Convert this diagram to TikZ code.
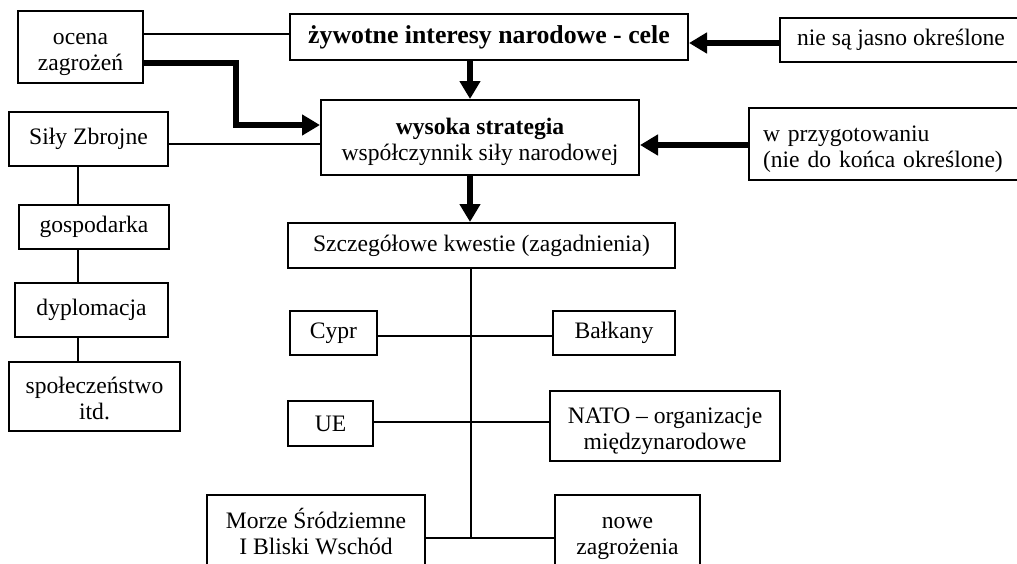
\documentclass[tikz,border=0pt]{standalone}
\usepackage{fontspec}
\setmainfont{Liberation Serif}
\usetikzlibrary{
    arrows.meta,
    calc,
    positioning,
}

\begin{document}
\begin{tikzpicture}[x=0.5pt,y=-0.5pt,>={Triangle[length=9pt,width=10pt]},font=\fontsize{11.8}{13}\selectfont]

    \tikzstyle{commonBox}=[draw=black, line width=1pt, rectangle, align=center, inner sep=0pt]
    \tikzstyle{goalBox}=[commonBox, font=\fontsize{12.9}{14}\selectfont\bfseries]
    \tikzstyle{noteBox}=[commonBox, align=left, inner xsep=7pt, text width=124pt]
    \tikzstyle{link}=[line width=1pt]
    \tikzstyle{flow}=[->, line width=3pt]

    % Same height for the first line of two-line boxes
    \def\firstline{\rule{0pt}{14pt}}

    % Frame of the picture
    \useasboundingbox (0,0) rectangle (1017,563);
    \clip (0,0) rectangle (1017,563);

    % Top row
    \node at (80.5,47)  [commonBox, minimum width=62.5pt, minimum height=36pt] (OZ)  {\firstline ocena\\ zagrożeń\strut};
    \node at (489,37)   [goalBox, minimum width=199pt, minimum height=23pt]     (ZIN) {żywotne interesy narodowe - cele};
    \node at (901,40)   [commonBox, minimum width=121pt, minimum height=22pt]   (NJO) {nie są jasno określone};

    % Strategy
    \node at (480,137.5) [commonBox, minimum width=159pt, minimum height=37.5pt] (WS) {\firstline\textbf{wysoka strategia}\\ współczynnik siły narodowej\strut};
    \node at (887,144)   [noteBox, minimum height=36pt] (WP) {\firstline w przygotowaniu\\ (nie do końca określone)\strut};

    % Factors of national power
    \node at (88.5,139)  [commonBox, minimum width=79.5pt, minimum height=27pt] (SZ) {Siły Zbrojne};
    \node at (94,227)    [commonBox, minimum width=75pt, minimum height=22pt]   (GO) {gospodarka};
    \node at (91.5,310)  [commonBox, minimum width=76.5pt, minimum height=27pt] (DY) {dyplomacja};
    \node at (94.5,396.5) [commonBox, minimum width=85.5pt, minimum height=34.5pt] (SP) {\firstline społeczeństwo\\ itd.\strut};

    % Detailed issues
    \node at (481.5,245.5) [commonBox, minimum width=193.5pt, minimum height=22.5pt] (SK) {Szczegółowe kwestie (zagadnienia)};
    \node at (333.5,333)  [commonBox, minimum width=43.5pt, minimum height=22pt]   (CY) {Cypr};
    \node at (614,333)    [commonBox, minimum width=61pt, minimum height=22pt]     (BA) {Bałkany};
    \node at (330.5,423.5) [commonBox, minimum width=42.5pt, minimum height=22.5pt] (UE) {UE};
    \node at (665,426)    [commonBox, minimum width=115pt, minimum height=35pt]    (NA) {\firstline NATO -- organizacje\\ międzynarodowe\strut};
    \node at (316,531.5)  [commonBox, minimum width=109pt, minimum height=36.5pt]  (MS) {\firstline Morze Śródziemne\\ I Bliski Wschód\strut};
    \node at (627.5,531.5) [commonBox, minimum width=72.5pt, minimum height=36.5pt] (NZ) {\firstline nowe\\ zagrożenia\strut};
    \coordinate (trunkEnd) at (471,538);

    % Connectors
    \draw [link] ([yshift=6.5pt]OZ.east) -- ([yshift=1.5pt]ZIN.west);
    \draw [flow] ([yshift=-8pt]OZ.east) -- ++(92,0) |- ([yshift=6.25pt]WS.west);
    \draw [flow] ([yshift=-1.5pt]NJO.west) -- ([yshift=-3pt]ZIN.east);
    \draw [flow] ([xshift=-9.5pt]ZIN.south) -- ([xshift=-5pt]WS.north);
    \draw [flow] ([yshift=-0.5pt]WP.west) -- ([yshift=-3.75pt]WS.west -| WS.east);
    \draw [link] ([yshift=-2.5pt]SZ.east) -- ([yshift=-3.25pt]WS.west);
    \draw [link] ([xshift=-5.5pt]SZ.south) -- ([xshift=-8.25pt]GO.north);
    \draw [link] ([xshift=-8.25pt]GO.south) -- ([xshift=-7pt]DY.north);
    \draw [link] ([xshift=-7pt]DY.south) -- ([xshift=-8.5pt]SP.north);
    \draw [flow] ([xshift=-5pt]WS.south) -- ([xshift=-5.75pt]SK.north);
    \draw [link] ([xshift=-5.25pt]SK.south) -- (trunkEnd);
    \draw [link] ([yshift=-1.5pt]CY.east) -- ([yshift=-1.5pt]BA.west);
    \draw [link] ([yshift=0.75pt]UE.east) -- ([yshift=2pt]NA.west);
    \draw [link] ([yshift=-3.25pt]MS.east) -- ([yshift=-3.25pt]NZ.west);
\end{tikzpicture}
\end{document}
